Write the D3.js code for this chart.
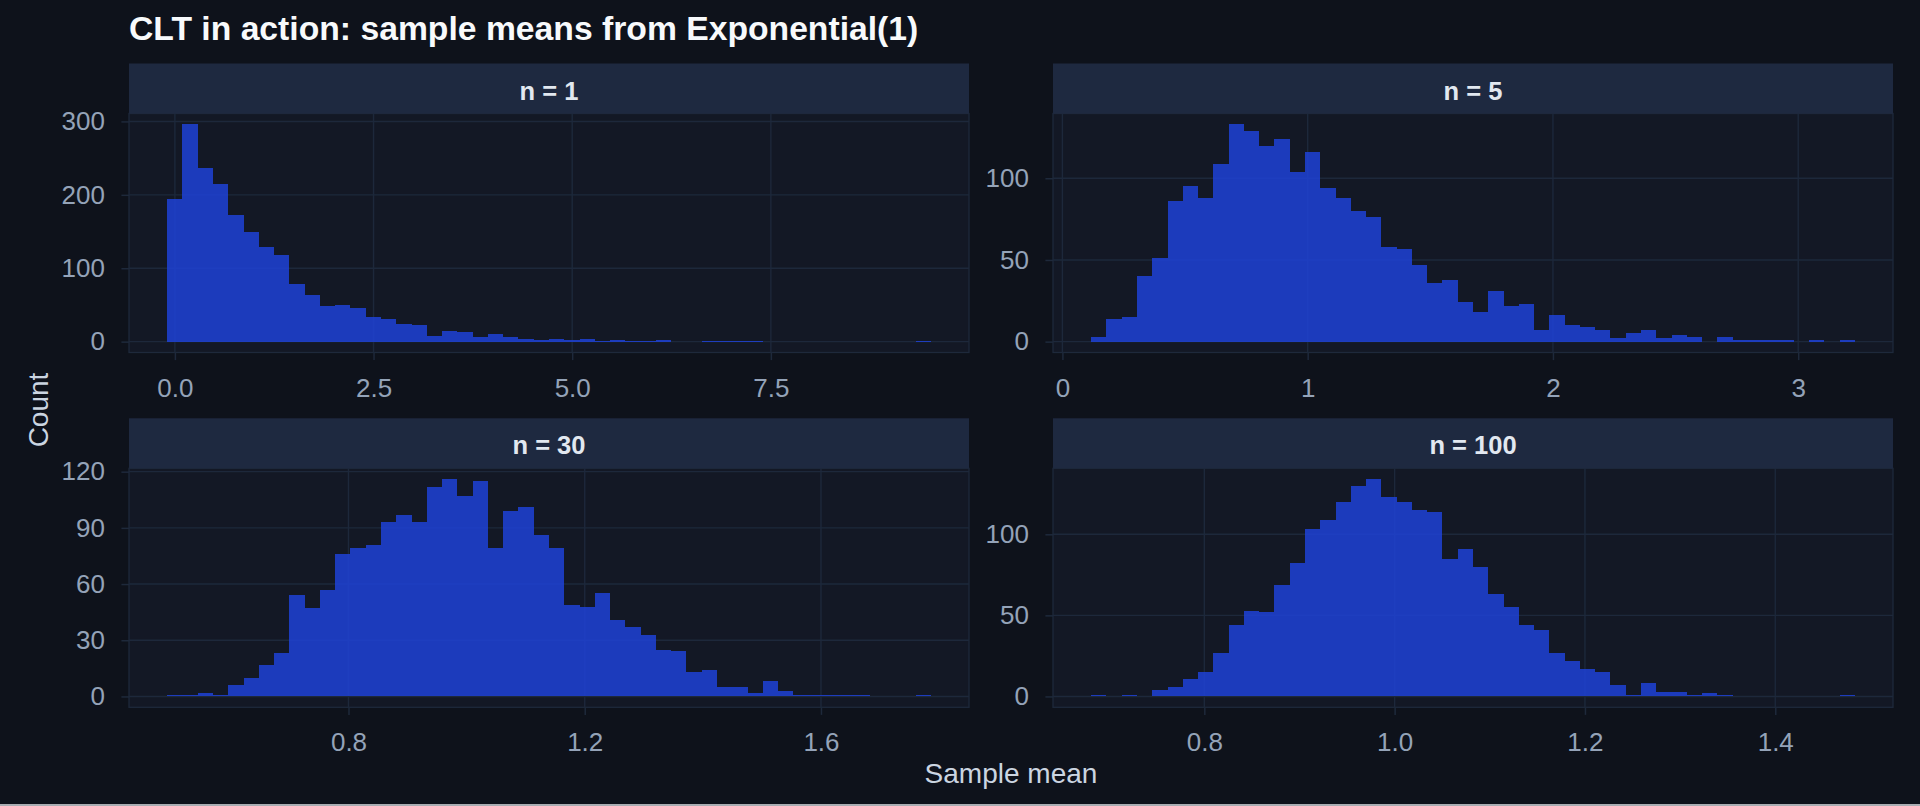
<!DOCTYPE html>
<html>
<head>
<meta charset="utf-8">
<script src="https://cdn.jsdelivr.net/npm/d3@7"></script>
<style>
  html, body { margin: 0; padding: 0; background: #a9adb3; }
  svg { display: block; }
</style>
</head>
<body>
<div id="chart"></div>
<script>
// facet labels and histogram bins (50 bins per panel, counts)
const panelLabels = ["n = 1", "n = 5", "n = 30", "n = 100"];
const binStart = [-0.097, 0.1173, 0.493, 0.6811];
const binWidth = [0.1922, 0.06227, 0.02586, 0.01605];

const countsN1 = [195, 296, 237, 215, 172, 149, 129, 118, 78, 64,
                  49, 50, 46, 34, 31, 24, 23, 8, 15, 13,
                  6, 10, 6, 4, 2, 4, 2, 4, 1, 2,
                  1, 1, 2, 0, 0, 1, 1, 1, 1, 0,
                  0, 0, 0, 0, 0, 0, 0, 0, 0, 1];
const countsN5 = [3, 14, 15, 40, 51, 86, 95, 88, 109, 133,
                  129, 120, 124, 104, 116, 94, 88, 80, 76, 58,
                  57, 47, 36, 38, 24, 18, 31, 22, 23, 7,
                  16, 10, 9, 7, 2, 5, 7, 2, 4, 3,
                  0, 3, 1, 1, 1, 1, 0, 1, 0, 1];
const countsN30 = [1, 1, 2, 1, 6, 10, 17, 23, 54, 47,
                   57, 76, 79, 81, 93, 97, 93, 112, 116, 107,
                   115, 79, 99, 101, 86, 79, 49, 48, 55, 41,
                   37, 33, 25, 24, 13, 14, 5, 5, 2, 8,
                   3, 1, 1, 1, 1, 1, 0, 0, 0, 1];
const countsN100 = [1, 0, 1, 0, 4, 6, 11, 15, 27, 44,
                    53, 52, 69, 82, 103, 109, 120, 130, 134, 123,
                    120, 115, 114, 85, 91, 80, 63, 55, 44, 41,
                    27, 22, 17, 15, 7, 1, 8, 3, 3, 1,
                    2, 1, 0, 0, 0, 0, 0, 0, 0, 1];

// axis breaks per panel
const xTicks = [[0, 2.5, 5, 7.5], [0, 1, 2, 3], [0.8, 1.2, 1.6], [0.8, 1.0, 1.2, 1.4]];
const yTicks = [[0, 100, 200, 300], [0, 50, 100], [0, 30, 60, 90, 120], [0, 50, 100]];
const xFormats = [".1f", "d", ".1f", ".1f"];

const allCounts = [countsN1, countsN5, countsN30, countsN100];

const width = 1920, height = 804;
const font = "'Liberation Sans', Arial, Helvetica, sans-serif";

// facet grid geometry
const colLeft = [129, 1053];
const colWidth = 840;
const rowStripTop = [63.5, 418.3];
const stripH = 50;
const panelH = 239;

const svg = d3.select("#chart").append("svg")
    .attr("width", width)
    .attr("height", height)
    .style("font-family", font);

svg.append("rect")
    .attr("width", width)
    .attr("height", height)
    .attr("fill", "#0e121b");

panelLabels.forEach((label, i) => {
    const counts = allCounts[i];
    const col = i % 2, row = Math.floor(i / 2);
    const left = colLeft[col], right = left + colWidth;
    const top = rowStripTop[row] + stripH, bottom = top + panelH;

    const bins = counts.map((c, k) => ({
        x0: binStart[i] + k * binWidth[i],
        x1: binStart[i] + (k + 1) * binWidth[i],
        count: c
    }));

    // ggplot style 5% expansion on both scales
    const xMin = bins[0].x0, xMax = bins[bins.length - 1].x1;
    const pad = (xMax - xMin) * 0.05;
    const x = d3.scaleLinear().domain([xMin - pad, xMax + pad]).range([left, right]);
    const yMax = d3.max(counts);
    const y = d3.scaleLinear().domain([-0.05 * yMax, 1.05 * yMax]).range([bottom, top]);

    const g = svg.append("g");

    g.append("rect")
        .attr("x", left).attr("y", top)
        .attr("width", right - left).attr("height", bottom - top)
        .attr("fill", "#131825");

    // grid
    g.selectAll(".vgrid")
        .data(xTicks[i])
        .join("line")
        .attr("x1", d => x(d)).attr("x2", d => x(d))
        .attr("y1", top).attr("y2", bottom)
        .attr("stroke", "#1d283b").attr("stroke-width", 1.4);
    g.selectAll(".hgrid")
        .data(yTicks[i])
        .join("line")
        .attr("x1", left).attr("x2", right)
        .attr("y1", d => y(d)).attr("y2", d => y(d))
        .attr("stroke", "#1d283b").attr("stroke-width", 1.4);

    // bars
    g.append("g")
        .selectAll("rect")
        .data(bins.filter(b => b.count > 0))
        .join("rect")
        .attr("x", d => x(d.x0))
        .attr("width", d => x(d.x1) - x(d.x0))
        .attr("y", d => y(d.count))
        .attr("height", d => y(0) - y(d.count))
        .attr("fill", "#1e42d7")
        .attr("fill-opacity", 0.85)
        .attr("shape-rendering", "crispEdges");

    // panel border
    g.append("rect")
        .attr("x", left).attr("y", top)
        .attr("width", right - left).attr("height", bottom - top)
        .attr("fill", "none")
        .attr("stroke", "#1e293b").attr("stroke-width", 1.3);

    // strip
    g.append("rect")
        .attr("x", left).attr("y", rowStripTop[row])
        .attr("width", right - left).attr("height", stripH)
        .attr("fill", "#1e2940");
    g.append("text")
        .attr("x", (left + right) / 2)
        .attr("y", rowStripTop[row] + 36)
        .attr("text-anchor", "middle")
        .attr("fill", "#e2e8f0")
        .style("font-size", "25.5px")
        .style("font-weight", "bold")
        .text(label);

    // axes
    const xAxis = g.append("g")
        .attr("transform", `translate(0,${bottom})`)
        .call(d3.axisBottom(x).tickValues(xTicks[i]).tickSize(7.6).tickFormat(d3.format(xFormats[i])));
    const yAxis = g.append("g")
        .attr("transform", `translate(${left},0)`)
        .call(d3.axisLeft(y).tickValues(yTicks[i]).tickSize(7.6).tickPadding(16.4).tickFormat(d3.format("d")));

    [xAxis, yAxis].forEach(a => {
        a.select(".domain").remove();
        a.selectAll(".tick line").attr("stroke", "#1e293b").attr("stroke-width", 1.5);
        a.selectAll(".tick text")
            .attr("fill", "#94a3b8")
            .style("font-size", "26px")
            .style("font-family", font);
    });
    xAxis.selectAll(".tick text").attr("y", 44).attr("dy", null);
});

// titles
svg.append("text")
    .attr("x", 129)
    .attr("y", 40)
    .attr("fill", "#f8fafc")
    .style("font-size", "33.7px")
    .style("font-weight", "bold")
    .text("CLT in action: sample means from Exponential(1)");

svg.append("text")
    .attr("x", (colLeft[0] + colLeft[1] + colWidth) / 2)
    .attr("y", 783)
    .attr("text-anchor", "middle")
    .attr("fill", "#cbd5e1")
    .style("font-size", "28px")
    .text("Sample mean");

svg.append("text")
    .attr("transform", "translate(48,410) rotate(-90)")
    .attr("text-anchor", "middle")
    .attr("fill", "#cbd5e1")
    .style("font-size", "28px")
    .text("Count");
</script>
</body>
</html>
